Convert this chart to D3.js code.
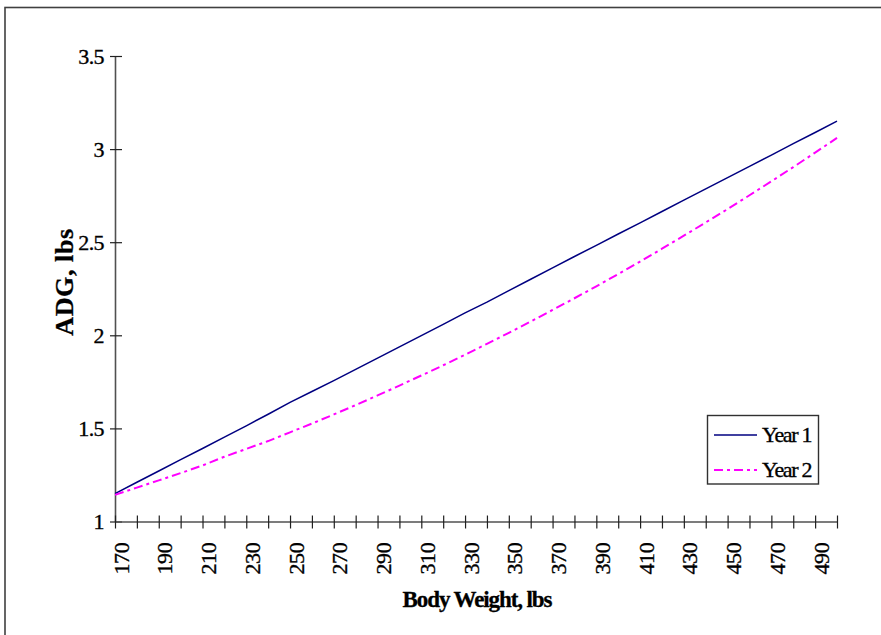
<!DOCTYPE html>
<html>
<head>
<meta charset="utf-8">
<script src="https://cdn.jsdelivr.net/npm/d3@7"></script>
<style>
  html, body { margin: 0; padding: 0; background: #fff; }
  svg { display: block; }
  text { font-family: "Liberation Serif", "Times New Roman", serif; fill: #000; }
</style>
</head>
<body>
<svg id="chart" width="881" height="635"></svg>
<script>
// ---- Data ----
const weights = [170,180,190,200,210,220,230,240,250,260,270,280,290,300,310,320,330,340,350,360,370,380,390,400,410,420,430,440,450,460,470,480,490,500];
const year1 = [1.150,1.211,1.271,1.332,1.392,1.453,1.514,1.576,1.640,1.698,1.757,1.817,1.877,1.938,1.998,2.059,2.120,2.178,2.240,2.301,2.362,2.423,2.483,2.544,2.604,2.665,2.726,2.786,2.847,2.907,2.968,3.029,3.089,3.150];
const year2 = [1.143,1.182,1.221,1.260,1.301,1.348,1.390,1.432,1.479,1.526,1.575,1.625,1.677,1.730,1.784,1.839,1.896,1.954,2.013,2.074,2.136,2.199,2.263,2.329,2.396,2.465,2.535,2.606,2.678,2.752,2.827,2.903,2.981,3.060];
const yTicks = [1, 1.5, 2, 2.5, 3, 3.5];
const xLabels = [170,190,210,230,250,270,290,310,330,350,370,390,410,430,450,470,490];
const seriesNames = ["Year 1", "Year 2"];
const seriesColors = ["#000080", "#FF00FF"];
const xTitle = "Body Weight, lbs";
const yTitle = "ADG, lbs";

// ---- Layout ----
const svg = d3.select("#chart");
const plotLeft = 115, plotRight = 837, plotTop = 56, plotBottom = 521.5;

// outer frame
svg.append("rect")
  .attr("x", 5).attr("y", 7.5)
  .attr("width", 900).attr("height", 700)
  .attr("fill", "none").attr("stroke", "#404040").attr("stroke-width", 1.6);

const x = d3.scalePoint().domain(weights).range([plotLeft, plotRight]);
const y = d3.scaleLinear().domain([1, 3.5]).range([plotBottom, plotTop]);

// Y axis
const yAxis = svg.append("g")
  .attr("transform", `translate(${plotLeft},0)`)
  .call(d3.axisLeft(y).tickValues(yTicks).tickSize(5).tickSizeOuter(0).tickPadding(7)
        .tickFormat(d => String(d)));
yAxis.select(".domain").attr("stroke", "#505050").attr("stroke-width", 1.6);
yAxis.selectAll(".tick line").attr("x1", -5).attr("x2", 7).attr("stroke", "#202020").attr("stroke-width", 1.2);
yAxis.selectAll(".tick text").attr("font-size", 22).attr("x", -11)
  .attr("font-family", "Liberation Serif").attr("letter-spacing", -0.6)
  .attr("stroke", "#000").attr("stroke-width", 0.35);

// X axis
const xAxis = svg.append("g")
  .attr("transform", `translate(0,${plotBottom})`)
  .call(d3.axisBottom(x).tickSize(7).tickSizeOuter(0)
        .tickFormat(d => xLabels.includes(d) ? String(d) : ""));
xAxis.select(".domain").attr("stroke", "#505050").attr("stroke-width", 1.6);
xAxis.selectAll(".tick line").attr("y1", -6).attr("y2", 7).attr("stroke", "#202020").attr("stroke-width", 1.2);
xAxis.selectAll(".tick text")
  .attr("font-size", 22)
  .attr("font-family", "Liberation Serif")
  .attr("text-anchor", "end")
  .attr("transform", "rotate(-90)")
  .attr("x", -21)
  .attr("y", 6)
  .attr("dy", "0.32em")
  .attr("letter-spacing", -0.3)
  .attr("stroke", "#000").attr("stroke-width", 0.35);

// Lines
const line = d3.line().x((d, i) => x(weights[i])).y(d => y(d));
svg.append("path").datum(year1)
  .attr("d", line).attr("fill", "none")
  .attr("stroke", seriesColors[0]).attr("stroke-width", 1.5);
svg.append("path").datum(year2)
  .attr("d", line).attr("fill", "none")
  .attr("stroke", seriesColors[1]).attr("stroke-width", 2)
  .attr("stroke-dasharray", "9,4,3,4");

// Axis titles
svg.append("text")
  .attr("x", 477).attr("y", 607)
  .attr("text-anchor", "middle")
  .attr("font-size", 23).attr("font-weight", "bold")
  .attr("letter-spacing", -1.1)
  .attr("stroke", "#000").attr("stroke-width", 0.3)
  .text(xTitle);
svg.append("text")
  .attr("transform", "translate(73,282) rotate(-90)")
  .attr("text-anchor", "middle")
  .attr("font-size", 26).attr("font-weight", "bold")
  .attr("letter-spacing", 0.6)
  .attr("stroke", "#000").attr("stroke-width", 0.3)
  .text(yTitle);

// Legend
const lg = svg.append("g");
lg.append("rect")
  .attr("x", 707.5).attr("y", 415.5).attr("width", 111).attr("height", 68.5)
  .attr("fill", "#fff").attr("stroke", "#303030").attr("stroke-width", 1.4);
seriesNames.forEach((name, i) => {
  const yy = 435 + i * 35;
  lg.append("line")
    .attr("x1", 714).attr("x2", 757).attr("y1", yy).attr("y2", yy)
    .attr("stroke", seriesColors[i])
    .attr("stroke-width", i === 0 ? 1.5 : 2)
    .attr("stroke-dasharray", i === 0 ? null : "9,4,3,4");
  lg.append("text")
    .attr("x", 762).attr("y", yy + 7)
    .attr("font-size", 22)
    .attr("letter-spacing", -1.3)
    .attr("stroke", "#000").attr("stroke-width", 0.35)
    .text(name);
});
</script>
</body>
</html>
